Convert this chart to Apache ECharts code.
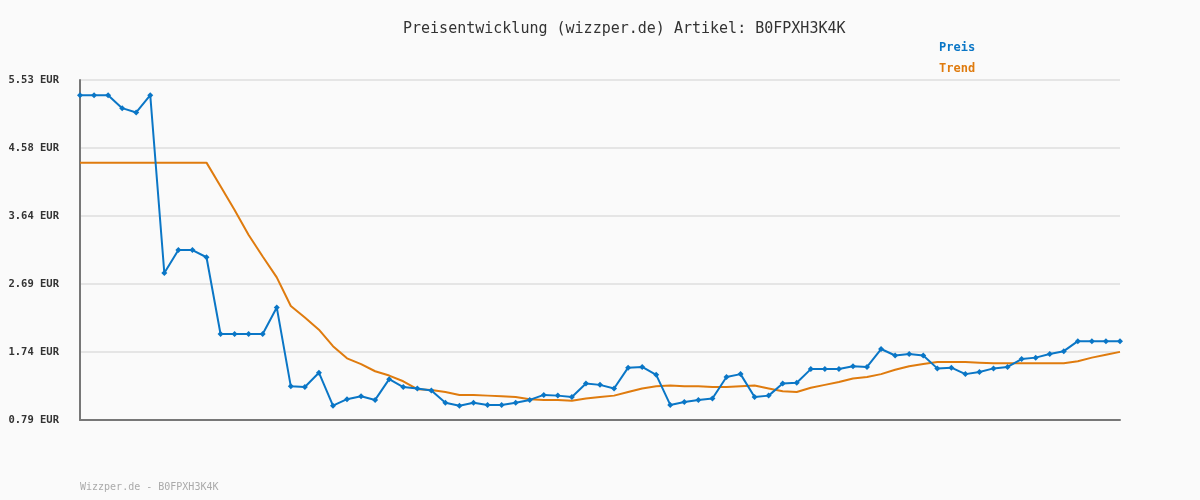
<!DOCTYPE html>
<html>
<head>
<meta charset="utf-8">
<script src="https://cdn.jsdelivr.net/npm/echarts@6/dist/echarts.min.js"></script>
<style>
html,body{margin:0;padding:0;background:#fafafa;}
#chart{width:1200px;height:500px;}
</style>
</head>
<body>
<div id="chart"></div>
<script>
const titleText = 'Preisentwicklung (wizzper.de) Artikel: B0FPXH3K4K';
const footerText = 'Wizzper.de - B0FPXH3K4K';
const yTickLabels = ['0.79 EUR', '1.74 EUR', '2.69 EUR', '3.64 EUR', '4.58 EUR', '5.53 EUR'];
const yBase = 0.79;
const yStep = 0.9485;

const preis = [
  5.32, 5.32, 5.32, 5.14, 5.08, 5.32, 2.84, 3.16, 3.16, 3.06,
  1.99, 1.99, 1.99, 1.99, 2.36, 1.26, 1.25, 1.45, 0.99, 1.08,
  1.12, 1.07, 1.36, 1.25, 1.23, 1.20, 1.03, 0.99, 1.03, 1.00,
  1.00, 1.03, 1.07, 1.14, 1.13, 1.11, 1.30, 1.28, 1.23, 1.52,
  1.53, 1.42, 1.00, 1.04, 1.07, 1.09, 1.39, 1.43, 1.11, 1.13,
  1.30, 1.31, 1.50, 1.50, 1.50, 1.54, 1.53, 1.78, 1.69, 1.71,
  1.69, 1.51, 1.52, 1.43, 1.46, 1.51, 1.53, 1.64, 1.66, 1.71,
  1.75, 1.89, 1.89, 1.89, 1.89
];
const trend = [
  4.38, 4.38, 4.38, 4.38, 4.38, 4.38, 4.38, 4.38, 4.38, 4.38,
  4.05, 3.72, 3.37, 3.07, 2.78, 2.38, 2.22, 2.05, 1.82, 1.65,
  1.57, 1.47, 1.41, 1.33, 1.22, 1.21, 1.18, 1.14, 1.14, 1.13,
  1.12, 1.11, 1.08, 1.07, 1.07, 1.06, 1.09, 1.11, 1.13, 1.18,
  1.23, 1.26, 1.27, 1.26, 1.26, 1.25, 1.25, 1.26, 1.27, 1.23,
  1.19, 1.18, 1.24, 1.28, 1.32, 1.37, 1.39, 1.43, 1.49, 1.54,
  1.57, 1.60, 1.60, 1.60, 1.59, 1.58, 1.58, 1.58, 1.58, 1.58,
  1.58, 1.61, 1.66, 1.70, 1.74
];
const categories = preis.map((_, i) => String(i + 1));

const BLUE = '#0a76c6';
const ORANGE = '#df7b0e';
const MONO = '"DejaVu Sans Mono", "Liberation Mono", monospace';

const chart = echarts.init(document.getElementById('chart'));
chart.setOption({
  backgroundColor: '#fafafa',
  animation: false,
  title: {
    text: titleText,
    left: 398,
    top: 17,
    textStyle: { fontFamily: MONO, fontSize: 15, fontWeight: 'normal', color: '#333' }
  },
  legend: {
    orient: 'vertical',
    left: 929,
    top: 37,
    icon: 'none',
    itemWidth: 0,
    itemHeight: 10,
    itemGap: 9,
    data: [
      { name: 'Preis', textStyle: { color: BLUE } },
      { name: 'Trend', textStyle: { color: ORANGE } }
    ],
    textStyle: { fontFamily: MONO, fontSize: 12, fontWeight: 'bold' }
  },
  graphic: [{
    type: 'text',
    left: 80,
    top: 482,
    style: { text: footerText, fill: '#aaa', font: '10px ' + MONO }
  }],
  grid: { left: 80, right: 80, top: 80, bottom: 80, containLabel: false },
  xAxis: {
    type: 'category',
    data: categories,
    boundaryGap: false,
    axisLine: { show: true, lineStyle: { color: '#777', width: 2 } },
    axisTick: { show: false },
    axisLabel: { show: false },
    splitLine: { show: false }
  },
  yAxis: {
    type: 'value',
    min: 0,
    max: yStep * 5,
    interval: yStep,
    axisLine: { show: true, lineStyle: { color: '#777', width: 2 } },
    axisTick: { show: false },
    axisLabel: {
      margin: 21,
      fontFamily: MONO,
      fontSize: 10.5,
      fontWeight: 'bold',
      color: '#333',
      formatter: v => yTickLabels[Math.round(v / yStep)] || ''
    },
    splitLine: { show: true, lineStyle: { color: '#e5e5e5', width: 2 } }
  },
  series: [
    {
      name: 'Preis',
      type: 'line',
      data: preis.map(v => +(v - yBase).toFixed(4)),
      color: BLUE,
      lineStyle: { width: 2, color: BLUE },
      symbol: 'diamond',
      symbolSize: 6,
      showSymbol: true,
      itemStyle: { color: BLUE },
      z: 3
    },
    {
      name: 'Trend',
      type: 'line',
      data: trend.map(v => +(v - yBase).toFixed(4)),
      color: ORANGE,
      lineStyle: { width: 2, color: ORANGE },
      symbol: 'none',
      showSymbol: false,
      itemStyle: { color: ORANGE },
      z: 2
    }
  ]
});
</script>
</body>
</html>
